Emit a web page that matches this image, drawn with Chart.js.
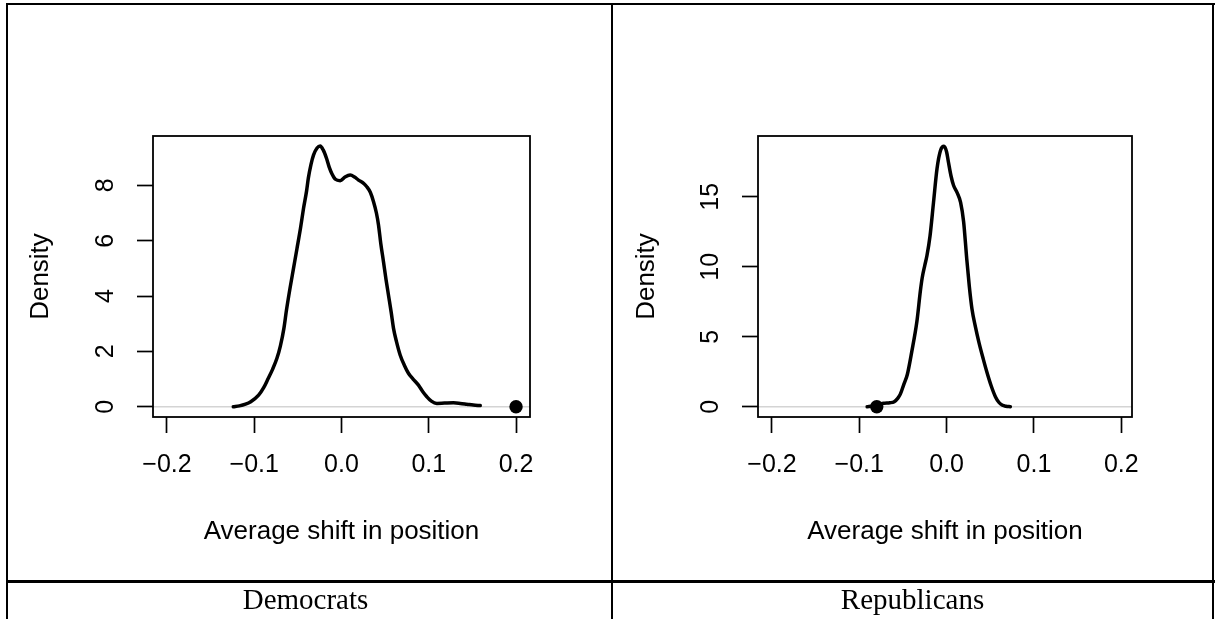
<!DOCTYPE html>
<html><head><meta charset="utf-8">
<script src="https://cdn.jsdelivr.net/npm/chart.js@4.4.1/dist/chart.umd.min.js"></script>
<style>
html,body{margin:0;padding:0;background:#fff;width:1215px;height:619px;overflow:hidden;position:relative}
.ln{position:absolute;background:#000;z-index:5}
canvas{position:absolute;top:0}
.cap{position:absolute;top:584px;height:30px;font-family:"Liberation Serif","Times New Roman",serif;font-size:29px;line-height:30px;text-align:center;color:#000;z-index:6;white-space:nowrap}
</style></head><body>
<div class="ln" style="left:6px;top:3px;width:1209px;height:2px"></div>
<div class="ln" style="left:6px;top:3px;width:2px;height:616px"></div>
<div class="ln" style="left:611px;top:3px;width:2px;height:616px"></div>
<div class="ln" style="left:1212px;top:3px;width:2px;height:616px"></div>
<div class="ln" style="left:6px;top:580px;width:1209px;height:3px"></div>
<canvas id="c1" width="612" height="582" style="left:0;width:612px;height:582px"></canvas>
<canvas id="c2" width="603" height="582" style="left:612px;width:603px;height:582px"></canvas>
<div class="cap" id="cap1" style="left:4px;width:603px"></div>
<div class="cap" id="cap2" style="left:613px;width:599px"></div>
<script>
// ---- data ----
const captions = ["Democrats", "Republicans"];
const xTitle = "Average shift in position";
const yTitle = "Density";
const xTicks = [-0.2, -0.1, 0.0, 0.1, 0.2];
const demYTicks = [0, 2, 4, 6, 8];
const repYTicks = [0, 5, 10, 15];

const demX = [-0.124,-0.117,-0.110,-0.104,-0.095,-0.089,-0.084,-0.079,-0.074,-0.070,-0.066,-0.063,-0.059,-0.055,-0.051,-0.047,-0.0435,-0.040,-0.038,-0.035,-0.032,-0.028,-0.0244,-0.021,-0.017,-0.014,-0.011,-0.007,-0.0015,0.004,0.010,0.015,0.0195,0.025,0.029,0.033,0.0367,0.040,0.0424,0.045,0.0481,0.051,0.0538,0.057,0.0596,0.063,0.0672,0.072,0.0767,0.082,0.0882,0.093,0.0978,0.103,0.1093,0.118,0.1283,0.136,0.1436,0.151,0.159];
const demY = [0.0,0.03,0.09,0.18,0.42,0.7,1.02,1.35,1.75,2.2,2.83,3.5,4.28,5.0,5.72,6.45,7.17,7.8,8.26,8.75,9.1,9.35,9.42,9.28,8.96,8.65,8.42,8.22,8.17,8.3,8.37,8.3,8.19,8.08,7.95,7.75,7.41,7.0,6.57,5.9,5.24,4.6,4.04,3.4,2.83,2.35,1.87,1.5,1.21,1.0,0.78,0.55,0.36,0.2,0.12,0.13,0.14,0.12,0.09,0.06,0.04];

const repX = [-0.091,-0.085,-0.078,-0.072,-0.065,-0.060,-0.056,-0.053,-0.049,-0.045,-0.040,-0.034,-0.030,-0.028,-0.025,-0.0225,-0.019,-0.015,-0.011,-0.007,-0.003,0.000,0.002,0.005,0.008,0.012,0.016,0.0195,0.023,0.026,0.029,0.033,0.037,0.042,0.046,0.051,0.056,0.060,0.064,0.068,0.073];
const repY = [0.0,0.05,0.15,0.24,0.28,0.36,0.6,0.9,1.6,2.3,3.9,6.1,8.3,9.2,10.1,10.8,12.2,14.6,17.0,18.3,18.6,18.2,17.5,16.5,15.8,15.3,14.6,13.2,10.6,8.6,7.0,5.7,4.6,3.4,2.5,1.5,0.7,0.3,0.1,0.03,0.0];

const demPoint = [0.2];
const repPoint = [-0.08];

// ---- drawing ----
const SANS = '"Liberation Sans", Arial, Helvetica, sans-serif';
Chart.defaults.font.family = SANS;
Chart.defaults.color = '#000';

function fmtX(v) {
  const s = Math.abs(v).toFixed(1);
  return v < -1e-9 ? '\u2212' + s : s;
}

const framePlugin = {
  id: 'frame',
  beforeDatasetsDraw(chart) {
    const {ctx, chartArea: a, scales: {y}} = chart;
    const py = y.getPixelForValue(0);
    ctx.save();
    ctx.strokeStyle = '#d4d4d4';
    ctx.lineWidth = 1.6;
    ctx.beginPath();
    ctx.moveTo(a.left, py);
    ctx.lineTo(a.right, py);
    ctx.stroke();
    ctx.restore();
  },
  afterDatasetsDraw(chart) {
    const {ctx, chartArea: a} = chart;
    ctx.save();
    ctx.strokeStyle = '#000';
    ctx.lineWidth = 1.8;
    ctx.strokeRect(a.left, a.top, a.right - a.left, a.bottom - a.top);
    ctx.restore();
  }
};

function measure(text, size) {
  const c = document.createElement('canvas').getContext('2d');
  c.font = size + 'px ' + SANS;
  return c.measureText(text).width;
}

function makeChart(id, xs, ys, pts, yTicks, area, xr, yr, titleX, labelOffset) {
  const cv = document.getElementById(id);
  const W = cv.width, H = cv.height;
  const padL = 10;
  const TL = 16;
  const widest = Math.max(...yTicks.map(v => measure(String(v), 25)));
  const yPad = labelOffset - TL - widest / 2;
  new Chart(cv, {
    type: 'line',
    data: {
      datasets: [
        {
          data: xs.map((x, i) => ({x: x, y: ys[i]})),
          borderColor: '#000', borderWidth: 3.5, pointRadius: 0,
          cubicInterpolationMode: 'monotone', fill: false, order: 1,
          borderCapStyle: 'round', borderJoinStyle: 'round'
        },
        {
          type: 'scatter',
          data: pts.map(x => ({x: x, y: 0})),
          pointRadius: 6.7, pointBackgroundColor: '#000', pointBorderColor: '#000',
          pointBorderWidth: 0, order: 0
        }
      ]
    },
    options: {
      responsive: false, animation: false, devicePixelRatio: 1,
      layout: {padding: {left: padL, top: area.t, right: W - area.r, bottom: 0}},
      plugins: {legend: {display: false}, tooltip: {enabled: false}},
      scales: {
        x: {
          type: 'linear', min: xr[0], max: xr[1],
          afterBuildTicks: s => { s.ticks = xTicks.map(v => ({value: v})); },
          afterFit: s => { s.height = H - area.b; },
          grid: {display: true, drawOnChartArea: false, drawTicks: true, tickLength: TL, tickColor: '#000', tickWidth: 1.7},
          border: {display: false},
          ticks: {font: {size: 25}, color: '#000', padding: 17, maxRotation: 0, minRotation: 0, autoSkip: false, callback: v => fmtX(v)},
          title: {display: true, text: xTitle, font: {size: 26}, color: '#000', padding: {top: 0, bottom: 35}}
        },
        y: {
          type: 'linear', min: yr[0], max: yr[1],
          afterBuildTicks: s => { s.ticks = yTicks.map(v => ({value: v})); },
          afterFit: s => { s.width = area.l - padL; },
          grid: {display: true, drawOnChartArea: false, drawTicks: true, tickLength: TL, tickColor: '#000', tickWidth: 1.7},
          border: {display: false},
          ticks: {font: {size: 25}, color: '#000', padding: yPad, minRotation: 90, maxRotation: 90, crossAlign: 'center', autoSkip: false, callback: v => String(v)},
          title: {display: true, text: yTitle, font: {size: 26}, color: '#000', padding: {top: titleX - padL - 15.6, bottom: 0}}
        }
      }
    },
    plugins: [framePlugin]
  });
}

makeChart('c1', demX, demY, demPoint, demYTicks, {l: 153, t: 136, r: 530, b: 417}, [-0.216, 0.216], [-0.372, 9.783], 41.2, 47);
makeChart('c2', repX, repY, repPoint, repYTicks, {l: 146, t: 136, r: 520, b: 417}, [-0.216, 0.2123], [-0.736, 19.34], 35, 47);

document.getElementById('cap1').textContent = captions[0];
document.getElementById('cap2').textContent = captions[1];
</script>
</body></html>
